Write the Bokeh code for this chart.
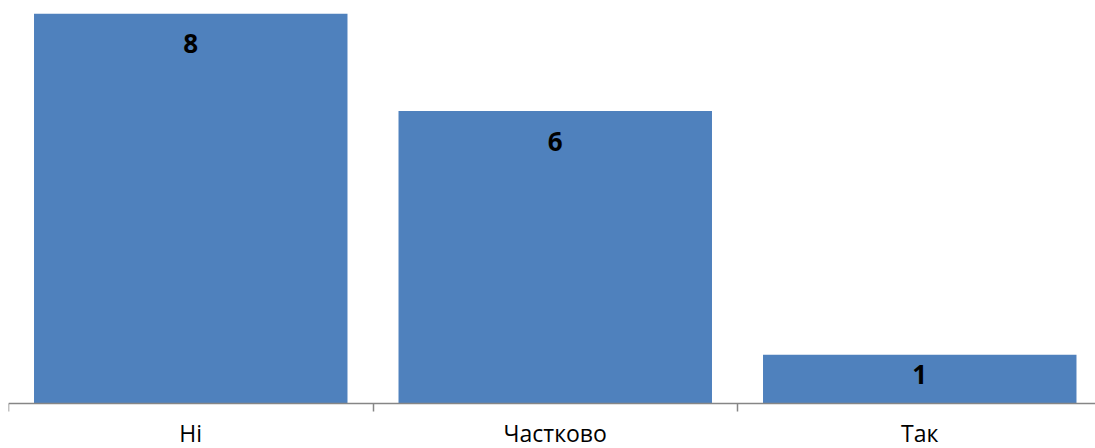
from bokeh.plotting import figure
from bokeh.models import ColumnDataSource, FixedTicker, Range1d, LinearAxis
from bokeh.core.properties import value
from bokeh.embed import file_html
from bokeh.resources import INLINE

categories = ["Ні", "Частково", "Так"]
counts = [8, 6, 1]
labels = ["8", "6", "1"]

W, H = 1095, 448
px_per_unit = 390 / 8

xpos = [i + 0.5 for i in range(len(categories))]
# label sits near the top of the bar, or centred when the bar is short
label_off = [min(30, v * px_per_unit / 2 - 4.5) for v in counts]
src = ColumnDataSource(dict(x=xpos, top=counts, label=labels, off=label_off,
                            cat=categories, base=[0] * len(categories)))

p = figure(width=W, height=H, output_backend="svg", toolbar_location=None,
           x_range=Range1d(0, 1087 / 364.5),
           y_range=Range1d(-45 / px_per_unit, 8),
           x_axis_location=None, y_axis_location=None,
           min_border_left=8, min_border_right=0, min_border_top=13, min_border_bottom=0)
p.outline_line_color = None
p.grid.visible = False

p.vbar(x="x", top="top", bottom=0, width=0.86, source=src,
       fill_color="#4F81BD", line_color=None)

p.text(x="x", y="top", text="label", source=src, y_offset="off",
       text_align="center", text_baseline="alphabetic",
       text_font=value("Open Sans"), text_font_size="26px",
       text_font_style="bold", text_color="black")

p.text(x="x", y="base", text="cat", source=src, y_offset=29,
       text_align="center", text_baseline="alphabetic",
       text_font=value("Open Sans"), text_font_size="23px",
       text_color="black")

ax = LinearAxis(fixed_location=0)
ax.ticker = FixedTicker(ticks=[], minor_ticks=[0, 1, 2, 3])
ax.major_tick_out = 0
ax.major_tick_in = 0
ax.minor_tick_out = 0
ax.minor_tick_in = 8
ax.minor_tick_line_color = "#868686"
ax.axis_line_color = "#868686"
ax.axis_line_width = 1.5
ax.minor_tick_line_width = 1.5
ax.major_label_standoff = 0
ax.major_label_text_font_size = "0px"
p.add_layout(ax, "above")

open("out.html", "w").write(file_html(p, INLINE))
